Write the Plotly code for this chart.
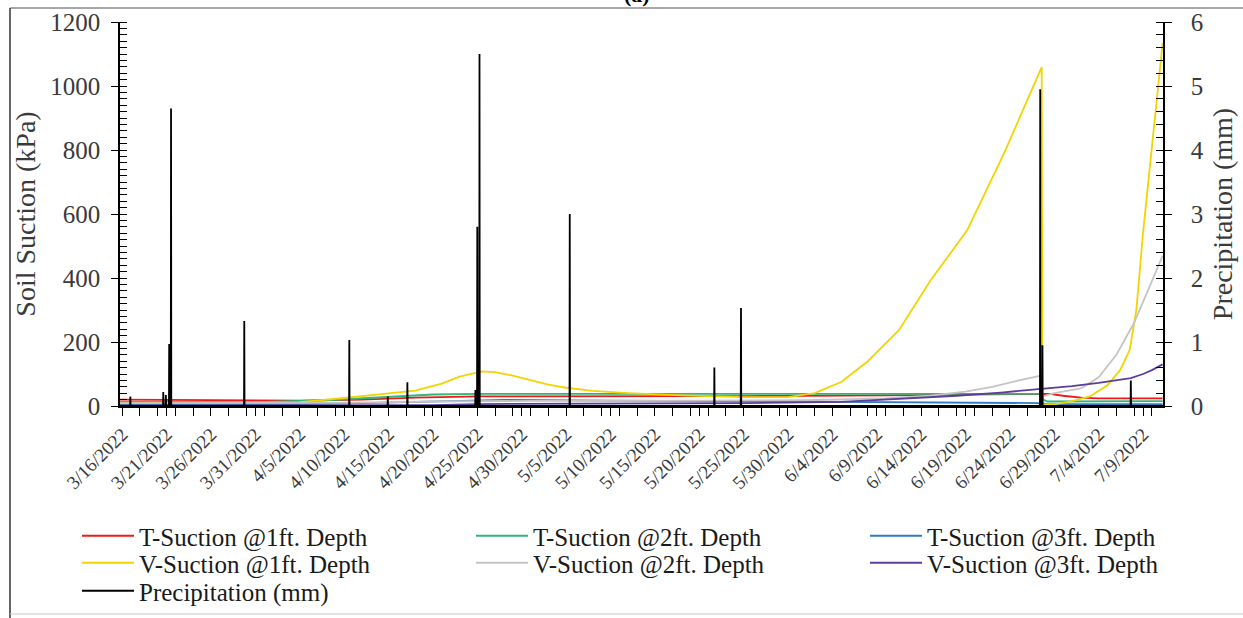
import plotly.graph_objects as go
import pandas as pd

# ---------------- data ----------------
t1_dates = ['2022-03-15 18:00', '2022-03-25', '2022-04-05', '2022-04-12', '2022-04-18', '2022-04-25',
            '2022-05-10', '2022-05-25', '2022-06-10', '2022-06-20', '2022-06-27 12:00', '2022-06-28 12:00',
            '2022-06-30', '2022-07-02', '2022-07-04', '2022-07-11 05:00']
t1_kpa = [20, 19, 17, 20, 26, 30, 30, 31, 33, 35, 37, 38, 32, 26, 24, 24]

t2_dates = ['2022-03-15 18:00', '2022-04-01', '2022-04-08', '2022-04-15', '2022-04-20', '2022-04-25',
            '2022-05-15', '2022-06-05', '2022-06-20', '2022-06-27 12:00', '2022-06-27 18:00',
            '2022-06-28 06:00', '2022-07-11 05:00']
t2_kpa = [13, 13, 18, 28, 36, 38, 38, 39, 38, 38, 20, 14, 15]

t3_dates = ['2022-03-15 18:00', '2022-04-05', '2022-04-12', '2022-04-20', '2022-04-28', '2022-05-10',
            '2022-05-25', '2022-06-10', '2022-06-27 12:00', '2022-06-28 06:00', '2022-07-11 05:00']
t3_kpa = [6, 6, 9, 15, 19, 17, 14, 11, 9, 6, 6]

v1_dates = ['2022-03-15 18:00', '2022-04-01', '2022-04-05', '2022-04-10', '2022-04-15', '2022-04-18',
            '2022-04-21', '2022-04-23', '2022-04-25 12:00', '2022-04-27', '2022-04-29', '2022-05-01',
            '2022-05-03', '2022-05-05', '2022-05-08', '2022-05-12', '2022-05-18', '2022-05-25',
            '2022-05-30', '2022-06-02', '2022-06-05', '2022-06-08', '2022-06-11 12:00', '2022-06-15',
            '2022-06-19 05:00', '2022-06-23 10:00', '2022-06-27 14:00', '2022-06-27 16:00', '2022-06-29',
            '2022-07-01', '2022-07-03', '2022-07-05', '2022-07-06 10:00', '2022-07-07 12:00',
            '2022-07-08 06:00', '2022-07-09', '2022-07-10 14:00', '2022-07-11 05:00']
v1_kpa = [10, 10, 12, 25, 38, 48, 70, 92, 108, 106, 95, 80, 67, 57, 47, 40, 33, 28, 28, 40, 75, 140,
          237, 390, 550, 794, 1059, 5, 5, 15, 30, 65, 112, 175, 300, 540, 956, 1134]

v2_dates = ['2022-03-15 18:00', '2022-04-10', '2022-04-20', '2022-05-01', '2022-05-20', '2022-06-01',
            '2022-06-10', '2022-06-15', '2022-06-19', '2022-06-22', '2022-06-25', '2022-06-27 12:00',
            '2022-06-27 16:00', '2022-06-29', '2022-07-02', '2022-07-04', '2022-07-06', '2022-07-08',
            '2022-07-10', '2022-07-11 05:00']
v2_kpa = [9, 10, 14, 16, 17, 18, 24, 32, 45, 60, 80, 95, 30, 40, 55, 90, 160, 260, 390, 470]

v3_dates = ['2022-03-15 18:00', '2022-04-15', '2022-04-20', '2022-04-25', '2022-05-10', '2022-05-25',
            '2022-06-05', '2022-06-12', '2022-06-18', '2022-06-23', '2022-06-27 12:00', '2022-07-01',
            '2022-07-04', '2022-07-07 15:00', '2022-07-09', '2022-07-10', '2022-07-11 05:00']
v3_kpa = [1, 1, 3, 6, 8, 9, 13, 22, 32, 42, 52, 62, 72, 87, 100, 112, 130]

rain_dates = ['2022-03-16 22:00', '2022-03-20 15:00', '2022-03-20 22:00', '2022-03-21 07:00',
              '2022-03-21 12:00', '2022-03-29 18:00', '2022-04-10 14:00', '2022-04-14 22:00',
              '2022-04-17 03:00', '2022-04-24 19:00', '2022-04-25 00:00', '2022-04-25 06:00',
              '2022-05-05 10:00', '2022-05-21 17:00', '2022-05-24 17:00', '2022-06-27 10:00',
              '2022-06-27 16:00', '2022-07-07 15:00']
rain_mm = [0.15, 0.22, 0.17, 0.97, 4.65, 1.33, 1.03, 0.15, 0.37, 0.25, 2.8, 5.5, 3.0, 0.6, 1.53,
           4.95, 0.95, 0.4]

x_start = '2022-03-15 18:00'
x_end = '2022-07-11 06:00'

# precipitation drawn as spikes on a zero baseline
rx, ry = [pd.Timestamp(x_start)], [0.0]
for d, v in zip(rain_dates, rain_mm):
    t = pd.Timestamp(d)
    rx += [t - pd.Timedelta(minutes=40), t, t + pd.Timedelta(minutes=40)]
    ry += [0.0, v, 0.0]
rx.append(pd.Timestamp(x_end))
ry.append(0.0)

# ---------------- figure ----------------
FONT = "Liberation Serif"
W, H = 1243, 618
L, R, T, B = 120, 80, 22, 212
PW, PH = W - L - R, H - T - B


def px(x):
    return (x - L) / PW


def py(y):
    return (H - B - y) / PH


fig = go.Figure()
series = [
    ("T-Suction @1ft. Depth", t1_dates, t1_kpa, "#F01818", "legend"),
    ("T-Suction @2ft. Depth", t2_dates, t2_kpa, "#2DB87A", "legend2"),
    ("T-Suction @3ft. Depth", t3_dates, t3_kpa, "#2F7DC0", "legend3"),
    ("V-Suction @1ft. Depth", v1_dates, v1_kpa, "#F2D400", "legend4"),
    ("V-Suction @2ft. Depth", v2_dates, v2_kpa, "#C4C4C4", "legend5"),
    ("V-Suction @3ft. Depth", v3_dates, v3_kpa, "#5B3D9C", "legend6"),
]
for name, xd, yd, col, lg in series:
    fig.add_trace(go.Scatter(x=xd, y=yd, mode="lines", name=name,
                             line=dict(color=col, width=1.8), legend=lg))
fig.add_trace(go.Scatter(x=rx, y=ry, mode="lines", name="Precipitation (mm)",
                         line=dict(color="black", width=1.8), yaxis="y2", legend="legend7"))

# legend positions (pixel): columns & rows
col_x = [77, 471, 865]
row_y = [536, 563, 591]
leg_pos = [(0, 0), (1, 0), (2, 0), (0, 1), (1, 1), (2, 1), (0, 2)]
leg_font = dict(family=FONT, size=25, color="#1a1a1a")
legends = {}
for i, (c, r) in enumerate(leg_pos):
    key = "legend" if i == 0 else f"legend{i + 1}"
    legends[key] = dict(x=px(col_x[c]), y=py(row_y[r]), xanchor="left", yanchor="middle",
                        bgcolor="rgba(0,0,0,0)", font=leg_font, itemwidth=52,
                        orientation="v")

axis_font = dict(family=FONT, size=25, color="#3a3a3a")
title_font = dict(family=FONT, size=28, color="#3a3a3a")
DAY = 86400000

fig.update_layout(
    width=W, height=H, autosize=False,
    margin=dict(l=L, r=R, t=T, b=B, autoexpand=False),
    paper_bgcolor="white", plot_bgcolor="white",
    font=dict(family=FONT, size=22, color="#3a3a3a"),
    showlegend=True,
    xaxis=dict(type="date", range=[x_start, x_end], tickmode="linear", tick0="2022-03-16",
               dtick=5 * DAY, tickformat="%-m/%-d/%Y", tickangle=-45,
               tickfont=dict(family=FONT, size=19, color="#3a3a3a"),
               ticks="outside", ticklen=8, tickcolor="black", tickwidth=1,
               showline=True, linecolor="black", linewidth=1.5, showgrid=False, zeroline=False,
               minor=dict(ticks="outside", ticklen=8, tickcolor="black", dtick=2 * DAY,
                          tick0="2022-03-16", showgrid=False)),
    yaxis=dict(range=[0, 1200], dtick=200, tickfont=axis_font, ticks="outside", ticklen=7,
               tickcolor="black", showline=True, linecolor="black", linewidth=1.5,
               showgrid=False, zeroline=False, ticklabelstandoff=6,
               title=dict(text="Soil Suction (kPa)", font=title_font, standoff=6),
               minor=dict(ticks="inside", ticklen=7, dtick=20, tickcolor="black", showgrid=False)),
    yaxis2=dict(range=[0, 6], dtick=1, overlaying="y", side="right", anchor="x",
                tickfont=axis_font, ticks="outside", ticklen=7, tickcolor="black",
                showline=True, linecolor="black", linewidth=1.5, showgrid=False, zeroline=False,
                ticklabelstandoff=14,
                title=dict(text="Precipitation (mm)", font=title_font, standoff=10),
                minor=dict(ticks="inside", ticklen=7, dtick=0.2, tickcolor="black", showgrid=False)),
    annotations=[dict(text="<b>(a)</b>", xref="paper", yref="paper", x=px(637), y=py(9),
                      xanchor="center", yanchor="bottom", showarrow=False,
                      font=dict(family=FONT, size=22, color="black"))],
    shapes=[
        dict(type="line", xref="paper", yref="paper", x0=px(10), x1=px(1243), y0=py(8), y1=py(8),
             line=dict(color="#8a8a8a", width=1.5)),
        dict(type="line", xref="paper", yref="paper", x0=px(10), x1=px(10), y0=py(8), y1=py(618),
             line=dict(color="#333333", width=1.5)),
        dict(type="line", xref="paper", yref="paper", x0=px(10), x1=px(1243), y0=py(614), y1=py(614),
             line=dict(color="#c8c8c8", width=1)),
    ],
    **legends,
)

fig.write_html("out.html")
